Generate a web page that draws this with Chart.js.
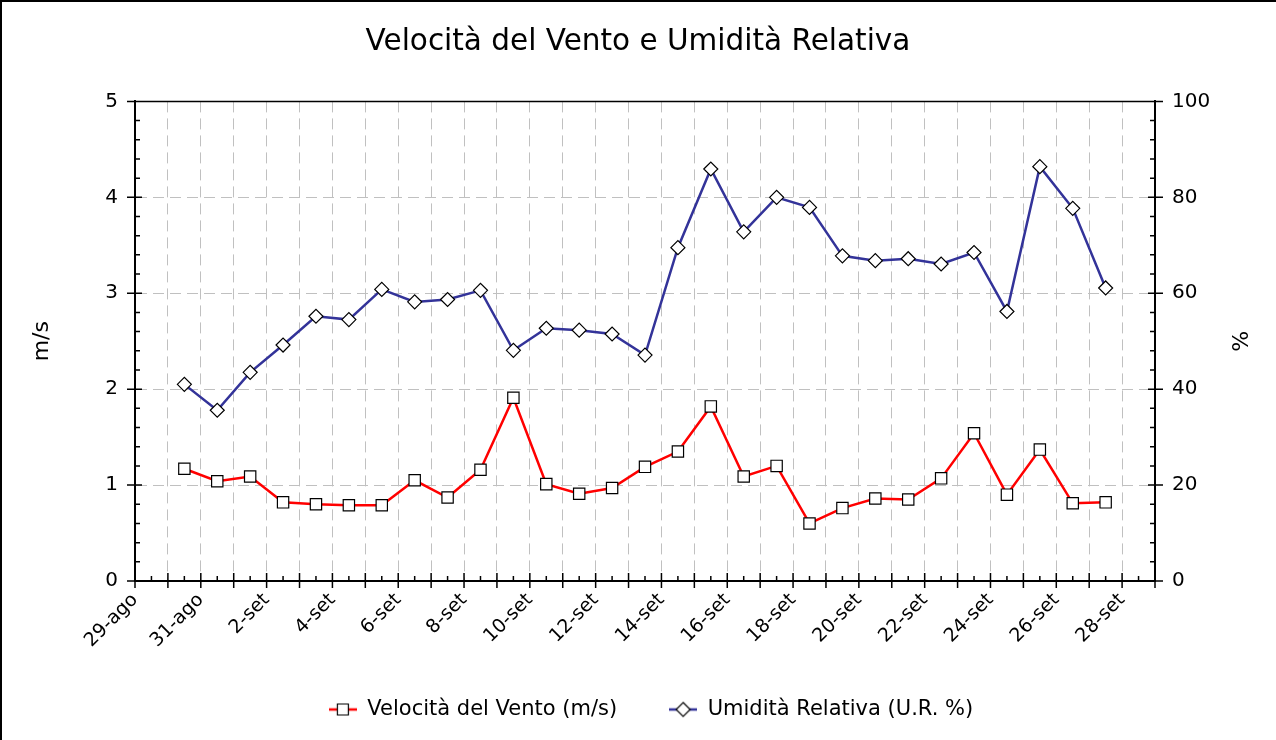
<!DOCTYPE html>
<html>
<head>
<meta charset="utf-8">
<script src="https://cdn.jsdelivr.net/npm/chart.js@4.4.0/dist/chart.umd.min.js"></script>
<style>
  html, body { margin: 0; padding: 0; background: #fff; }
  canvas { display: block; }
</style>
</head>
<body>
<canvas id="chart" width="1276" height="740"></canvas>
<script>
// axis day labels, 29-ago .. 29-set (one per day)
const dayLabels = ['29-ago', '30-ago', '31-ago', '1-set', '2-set', '3-set', '4-set', '5-set', '6-set', '7-set',
  '8-set', '9-set', '10-set', '11-set', '12-set', '13-set', '14-set', '15-set', '16-set', '17-set', '18-set',
  '19-set', '20-set', '21-set', '22-set', '23-set', '24-set', '25-set', '26-set', '27-set', '28-set', '29-set'];

// measured days (daily means, plotted at midday)
const days = ['30-ago', '31-ago', '1-set', '2-set', '3-set', '4-set', '5-set', '6-set', '7-set', '8-set',
  '9-set', '10-set', '11-set', '12-set', '13-set', '14-set', '15-set', '16-set', '17-set', '18-set',
  '19-set', '20-set', '21-set', '22-set', '23-set', '24-set', '25-set', '26-set', '27-set'];

const windSpeed = [1.17, 1.04, 1.09, 0.82, 0.80, 0.79, 0.79, 1.05, 0.87, 1.16,
  1.91, 1.01, 0.91, 0.97, 1.19, 1.35, 1.82, 1.09, 1.20, 0.60,
  0.76, 0.86, 0.85, 1.07, 1.54, 0.90, 1.37, 0.81, 0.82];

const humidity = [41.0, 35.6, 43.5, 49.2, 55.2, 54.5, 60.8, 58.2, 58.7, 60.6,
  48.1, 52.7, 52.3, 51.5, 47.1, 69.5, 85.9, 72.8, 80.0, 77.9,
  67.8, 66.8, 67.2, 66.1, 68.5, 56.2, 86.4, 77.7, 61.1];

const FONT = "'DejaVu Sans', sans-serif";

function toPoints(values) {
  return values.map((v, i) => ({ x: dayLabels.indexOf(days[i]) + 0.5, y: v }));
}

// legend sample: short line with the marker in the middle
function legendSample(color, shape) {
  const c = document.createElement('canvas');
  c.width = 28; c.height = 18;
  const g = c.getContext('2d');
  g.strokeStyle = color; g.lineWidth = 2.5;
  g.beginPath(); g.moveTo(0, 9); g.lineTo(28, 9); g.stroke();
  g.fillStyle = '#fff'; g.strokeStyle = '#000'; g.lineWidth = 1.2;
  g.beginPath();
  if (shape === 'rect') {
    g.rect(8.5, 3.5, 11, 11);
  } else {
    g.moveTo(14, 2); g.lineTo(21, 9); g.lineTo(14, 16); g.lineTo(7, 9); g.closePath();
  }
  g.fill(); g.stroke();
  return c;
}

const legendImages = [legendSample('#ff0000', 'rect'), legendSample('#333399', 'diamond')];

// frame, tick marks (major crossing the axis, minor inside) and outer border
const axisMarks = {
  id: 'axisMarks',
  afterLayout(chart) {
    // legend sits a little right of the canvas centre in the original
    chart.legend.left += 13;
    chart.legend.right += 13;
  },
  afterDraw(chart) {
    const { ctx, chartArea: a, scales } = chart;
    ctx.save();
    ctx.strokeStyle = '#000';
    ctx.lineWidth = 1.5;
    ctx.beginPath();
    ctx.moveTo(a.left, a.top); ctx.lineTo(a.right, a.top);
    for (let h = 0; h <= 62; h++) {
      const x = scales.x.getPixelForValue(h / 2);
      const major = h % 2 === 0;
      ctx.moveTo(x, a.bottom + (major ? 7 : 0));
      ctx.lineTo(x, a.bottom - (major ? 8 : 5));
    }
    for (let k = 0; k <= 25; k++) {
      const y = scales.y.getPixelForValue(k / 5);
      const major = k % 5 === 0;
      ctx.moveTo(a.left - (major ? 8 : 0), y);
      ctx.lineTo(a.left + (major ? 7 : 5), y);
      ctx.moveTo(a.right - (major ? 7 : 5), y);
      ctx.lineTo(a.right + (major ? 8 : 0), y);
    }
    ctx.stroke();
    ctx.lineWidth = 2;
    ctx.beginPath();
    ctx.moveTo(1, chart.height); ctx.lineTo(1, 1); ctx.lineTo(chart.width, 1);
    ctx.stroke();
    ctx.restore();
  }
};

const ctx = document.getElementById('chart').getContext('2d');
const chart = new Chart(ctx, {
  type: 'line',
  data: {
    datasets: [{
      label: 'Velocità del Vento (m/s)',
      data: toPoints(windSpeed),
      yAxisID: 'y',
      borderColor: '#ff0000',
      borderWidth: 2.5,
      pointStyle: 'rect',
      pointRadius: 8,
      pointBackgroundColor: '#fff',
      pointBorderColor: '#000',
      pointBorderWidth: 1.2
    }, {
      label: 'Umidità Relativa (U.R. %)',
      data: toPoints(humidity),
      yAxisID: 'y1',
      borderColor: '#333399',
      borderWidth: 2.5,
      pointStyle: 'rectRot',
      pointRadius: 7,
      pointBackgroundColor: '#fff',
      pointBorderColor: '#000',
      pointBorderWidth: 1.2
    }]
  },
  options: {
    responsive: false,
    animation: false,
    devicePixelRatio: 1,
    layout: { padding: { left: 0, right: 0, top: 0, bottom: 10 } },
    plugins: {
      title: {
        display: true,
        text: 'Velocità del Vento e Umidità Relativa',
        color: '#000',
        font: { family: FONT, size: 29.5, weight: 'normal' },
        padding: { top: 25, bottom: 41 }
      },
      legend: {
        position: 'bottom',
        labels: {
          usePointStyle: true,
          pointStyleWidth: 28,
          padding: 52,
          color: '#000',
          font: { family: FONT, size: 21 },
          generateLabels(chart) {
            const items = Chart.defaults.plugins.legend.labels.generateLabels(chart);
            items.forEach((it, i) => { it.pointStyle = legendImages[i]; });
            return items;
          }
        }
      },
      tooltip: { enabled: false }
    },
    scales: {
      x: {
        type: 'linear',
        min: 0,
        max: dayLabels.length - 1,
        afterFit: s => { s.height = 66; },
        ticks: {
          stepSize: 1,
          autoSkip: false,
          minRotation: 45,
          maxRotation: 45,
          padding: 8,
          color: '#000',
          font: { family: FONT, size: 19 },
          callback: v => (v % 2 === 0 ? dayLabels[v] : '')
        },
        grid: { color: '#c0c0c0', lineWidth: 1, drawTicks: false },
        border: { display: true, color: '#000', width: 2, dash: [11, 6] }
      },
      y: {
        position: 'left',
        min: 0,
        max: 5,
        afterFit: s => { s.width = 135; },
        ticks: { stepSize: 1, padding: 17, color: '#000', font: { family: FONT, size: 20 } },
        grid: { color: '#c0c0c0', lineWidth: 1, drawTicks: false },
        border: { display: true, color: '#000', width: 2, dash: [11, 6] },
        title: { display: true, text: 'm/s', color: '#000', font: { family: FONT, size: 22 }, padding: { top: 29 } }
      },
      y1: {
        position: 'right',
        min: 0,
        max: 100,
        afterFit: s => { s.width = 121; },
        ticks: { stepSize: 20, padding: 17, color: '#000', font: { family: FONT, size: 20 } },
        grid: { drawOnChartArea: false, drawTicks: false },
        border: { display: true, color: '#000', width: 2 },
        title: { display: true, text: '%', color: '#000', font: { family: FONT, size: 22 }, padding: { top: 25 } }
      }
    }
  },
  plugins: [axisMarks]
});
</script>
</body>
</html>
